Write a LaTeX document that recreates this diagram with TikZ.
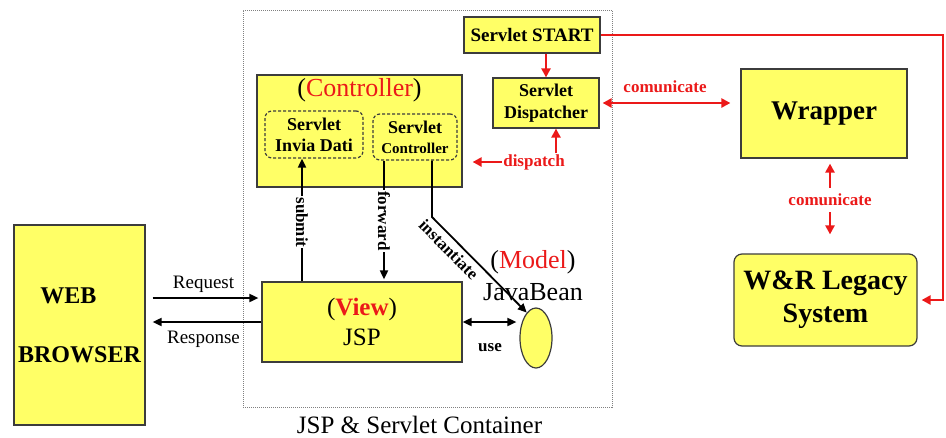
\documentclass[tikz,border=0pt]{standalone}
\usepackage{fontspec}
\setmainfont{Liberation Serif}
\usetikzlibrary{arrows.meta,calc,shapes.geometric}
\definecolor{ybox}{RGB}{255,255,102}
\definecolor{rd}{RGB}{235,25,25}
\definecolor{bd}{RGB}{60,60,60}
\begin{document}
\begin{tikzpicture}[x=1pt,y=-1pt,
  box/.style={draw=bd,line width=1.2pt,fill=ybox,inner sep=0pt,align=center},
  sbox/.style={box,rounded corners=7pt,densely dashed},
  blk/.style={line width=1.8pt,-{Triangle[length=9pt,width=8pt]}},
  blktwo/.style={line width=1.8pt,{Triangle[length=9pt,width=8pt]}-{Triangle[length=9pt,width=8pt]}},
  rline/.style={rd,line width=2.4pt,-{Triangle[length=9pt,width=9pt]}},
  rlinetwo/.style={rd,line width=2.4pt,{Triangle[length=9pt,width=9pt]}-{Triangle[length=9pt,width=9pt]}},
  lab/.style={font=\fontsize{17}{19}\selectfont\bfseries,inner sep=1pt},
  rlab/.style={lab,text=rd},
  big/.style={font=\fontsize{26}{30}\selectfont},
]
\useasboundingbox (0,0) rectangle (946,437);

% container
\node[draw=gray,densely dotted,line width=1pt,minimum width=369,minimum height=397,inner sep=0pt] (cont) at (427.5,208.5) {};
\node[font=\fontsize{25}{28}\selectfont] (contlab) at ($(cont.south)+(-8,17)$) {JSP \& Servlet Container};

% boxes
\node[box,minimum width=131,minimum height=200,font=\fontsize{24}{27}\selectfont\bfseries] (web) at (79.5,325)
  {\hspace*{-22pt}WEB\\[32pt]BROWSER};
\node[box,minimum width=200,minimum height=80,font=\fontsize{25}{30}\selectfont] (jsp) at (362,322)
  {(\textcolor{rd}{\bfseries View})\\JSP};
\node[box,minimum width=205,minimum height=112] (ctrl) at (359.5,131) {};
\node[big,inner sep=0pt] (ctrllab) at ($(ctrl.north)+(0,16)$) {(\textcolor{rd}{Controller})};
\node[sbox,minimum width=98,minimum height=47,font=\fontsize{18}{21}\selectfont\bfseries] (invia) at (314,134.5)
  {Servlet\\Invia Dati};
\node[sbox,minimum width=84,minimum height=46,font=\fontsize{18}{20}\selectfont\bfseries] (sc) at (415,137)
  {Servlet\\{\fontsize{15}{17}\selectfont Controller}};
\node[box,minimum width=136,minimum height=36,font=\fontsize{19}{21}\selectfont\bfseries] (start) at (532,35)
  {Servlet START};
\node[box,minimum width=106,minimum height=50,font=\fontsize{18}{22}\selectfont\bfseries] (disp) at (546,103)
  {Servlet\\Dispatcher};
\node[box,minimum width=166,minimum height=89,font=\fontsize{27}{30}\selectfont\bfseries] (wrap) at (824,113.5)
  {Wrapper};
\node[box,rounded corners=8pt,minimum width=183,minimum height=92,font=\fontsize{28}{33}\selectfont\bfseries] (legacy) at (825.5,300)
  {W\&R Legacy\\System};
\node[box,ellipse,minimum width=32,minimum height=60] (bean) at (536,338) {};
\node[big,inner sep=0pt] (model) at (533,262) {(\textcolor{rd}{Model})};
\node[big,inner sep=0pt] (jb) at (533,292) {JavaBean};

% browser <-> jsp
\coordinate (rq) at (0,298);
\draw[blk,shorten <=7pt,shorten >=3pt] (web.east |- rq) -- node[above=4pt,font=\fontsize{19}{21}\selectfont,inner sep=1pt] (reqlab) {Request} (jsp.west |- rq);
\draw[blk,shorten >=7pt] (jsp.west) -- node[below=7pt,font=\fontsize{19}{21}\selectfont,inner sep=1pt] (reslab) {Response} (web.east |- jsp.west);

% submit / forward / instantiate
\coordinate (sx) at (302,0);
\coordinate (fx) at (384,0);
\coordinate (ib) at (432,217);
\draw[blk] (jsp.north -| sx) -- node[lab,rotate=-90,fill=white,pos=0.48] (sublab) {submit} (invia.south -| sx);
\draw[blk,shorten >=2pt] (sc.south -| fx) -- node[lab,rotate=-90,fill=white,pos=0.5] (fwdlab) {forward} (jsp.north -| fx);
\draw[blk] (sc.south -| ib) -- (ib) -- node[lab,sloped,below=3pt,pos=0.26] (instlab) {instantiate} (bean.110);
\draw[blktwo,shorten >=3pt] (jsp.east) -- (jsp.east -| bean.west);
\node[lab] (uselab) at (490,348) {use};

% red connectors
\draw[rline] (start.south -| disp.north) -- (disp.north);
\node[rlab] (dl) at (534,162) {dispatch};
\draw[rline,shorten >=10pt] (dl.west) -- (dl.west -| ctrl.east);
\draw[rline] ([xshift=10pt]disp.south |- dl.north) -- ([xshift=10pt]disp.south);
\draw[rlinetwo,shorten <=3pt,shorten >=10pt] (disp.east) -- (wrap.west |- disp.east);
\node[rlab] (cl1) at (665,87) {comunicate};
\node[rlab] (cl2) at (830,200) {comunicate};
\draw[rline,shorten >=5pt] (cl2.north) ++(0,-5) -- (wrap.south -| cl2.north);
\draw[rline,shorten >=19pt] (cl2.south) ++(0,5) -- (legacy.north -| cl2.south);
\coordinate (rc) at (943,0);
\draw[rline,shorten >=4pt] (start.east) -- (start.east -| rc) -- (legacy.east -| rc) -- (legacy.east);
\end{tikzpicture}
\end{document}
